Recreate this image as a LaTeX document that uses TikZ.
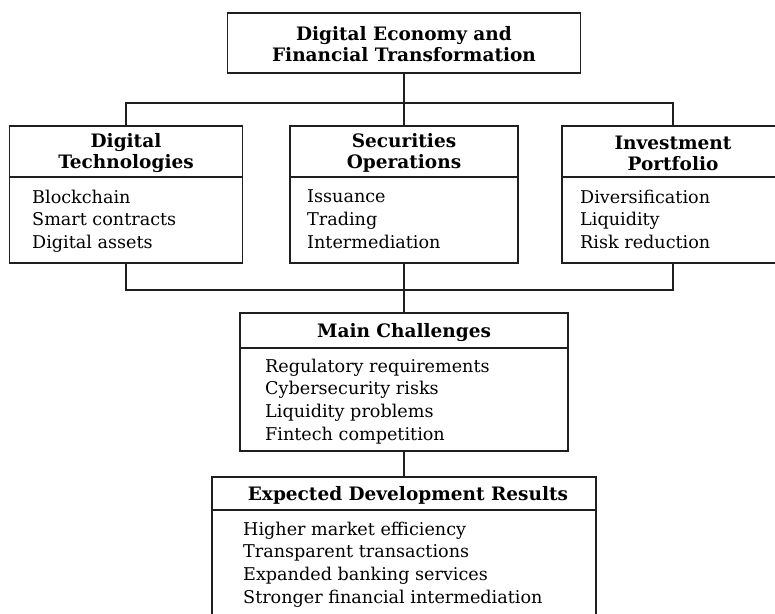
\documentclass[tikz,border=0pt]{standalone}
\usepackage{fontspec}
\setmainfont{DejaVu Serif}
\begin{document}
\begin{tikzpicture}[x=1pt,y=-1pt,
  frame/.style={draw=black!88, line width=1.5pt, rectangle, inner sep=0pt},
  link/.style={draw=black!88, line width=1.5pt},
  head/.style={font=\fontsize{18.5}{21}\selectfont\bfseries, align=center, inner sep=0pt, text=black},
  body/.style={font=\fontsize{17.6}{22.8}\selectfont, align=left, inner sep=0pt, anchor=north west, text=black}
]
\useasboundingbox[fill=white] (0,0) rectangle (775,613);
\clip (0,0) rectangle (775,613);

% boxes
\node[frame, minimum width=353pt, minimum height=60pt] (top) at (404,43) {};
\node[frame, minimum width=233pt, minimum height=137pt] (dt) at (126,194.5) {};
\node[frame, minimum width=228pt, minimum height=137pt] (so) at (404,194.5) {};
\node[frame, minimum width=222pt, minimum height=137pt] (ip) at (673,194.5) {};
\node[frame, minimum width=328pt, minimum height=138pt] (mc) at (404,382) {};
\node[frame, minimum width=384pt, minimum height=170pt] (ed) at (404,562) {};

% dividers
\draw[link] (dt.west |- 0,177) -- (dt.east |- 0,177);
\draw[link] (so.west |- 0,177) -- (so.east |- 0,177);
\draw[link] (ip.west |- 0,177) -- (ip.east |- 0,177);
\draw[link] (mc.west |- 0,348) -- (mc.east |- 0,348);
\draw[link] (ed.west |- 0,510) -- (ed.east |- 0,510);

% texts
\node[head] (toptxt) at (404,44) {Digital Economy and\\Financial Transformation};
\node[head] (dth) at (126,153) {Digital\\Technologies};
\node[head] (soh) at (404,153) {Securities\\Operations};
\node[head] (iph) at (673,153) {Investment\\Portfolio};
\node[head] (mch) at (404,333) {Main Challenges};
\node[head] (edh) at (408,495) {Expected Development Results};

\node[body] (dtb) at (32,189.5) {Blockchain\\Smart contracts\\Digital assets};
\node[body] (sob) at (307,189.5) {Issuance\\Trading\\Intermediation};
\node[body] (ipb) at (580,189.5) {Diversification\\Liquidity\\Risk reduction};
\node[body] (mcb) at (265,358.5) {Regulatory requirements\\Cybersecurity risks\\Liquidity problems\\Fintech competition};
\node[body] (edb) at (243,521.5) {Higher market efficiency\\Transparent transactions\\Expanded banking services\\Stronger financial intermediation};

% connectors
\coordinate (bus1) at (404,103);
\coordinate (bus2) at (404,290);
\draw[link] (top.south) -- (so.north);
\draw[link] (dt.north) |- (bus1) -| (ip.north);
\draw[link] (dt.south) |- (bus2) -| (ip.south);
\draw[link] (so.south) -- (mc.north);
\draw[link] (mc.south) -- (ed.north);
\end{tikzpicture}
\end{document}
